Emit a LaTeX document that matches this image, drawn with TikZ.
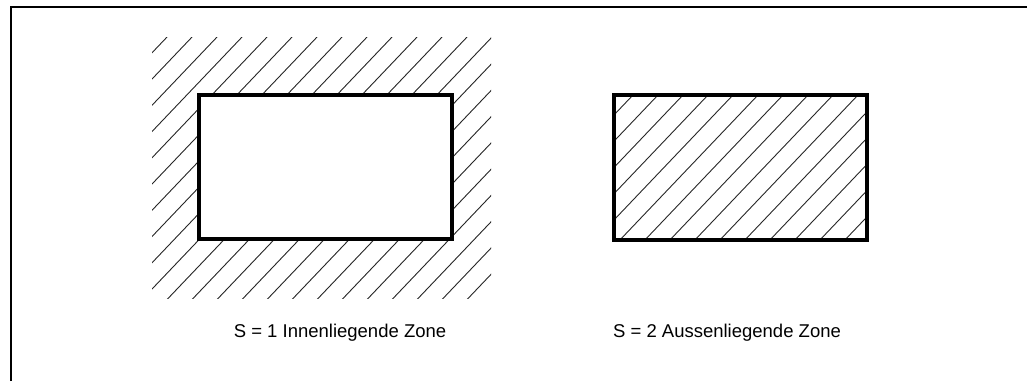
\documentclass[tikz,border=0pt]{standalone}
\usepackage{fontspec}
\setmainfont{Liberation Sans}
\begin{document}
\begin{tikzpicture}[x=1pt,y=-1pt,
  frameline/.style={line width=2pt},
  zone/.style={draw, line width=4pt, inner sep=0pt},
  hatch/.style={line width=0.9pt, black!85},
  label/.style={font=\fontsize{18.5}{22}\selectfont, inner sep=0pt}]
\useasboundingbox (0,0) rectangle (1027,381);
\fill[white] (0,0) rectangle (1027,381);
% frame
\draw[frameline] (11,381) -- (11,7) -- (1027,7);
% outer hatch area (left)
\coordinate (hl1) at (152,37);
\coordinate (hl2) at (491,298);
\begin{scope}
  \clip (hl1) rectangle (hl2);
  \foreach \n in {-12,...,32} {
    \pgfmathsetmacro{\c}{238.65+26.25*\n}
    \draw[hatch] (0,\c) -- (1027,\c-1078.35);
  }
\end{scope}
% inner zone rectangle (white inside)
\node[zone, fill=white, minimum width=253pt, minimum height=144pt] (inner) at (325.5,167) {};
% right rectangle with hatch inside
\coordinate (r1) at (614,95);
\coordinate (r2) at (867,240);
\begin{scope}
  \clip (r1) rectangle (r2);
  \foreach \n in {-20,...,20} {
    \pgfmathsetmacro{\c}{759.65+26.25*\n}
    \draw[hatch] (0,\c) -- (1027,\c-1078.35);
  }
\end{scope}
\node[zone, minimum width=253pt, minimum height=145pt] (outer) at (740.5,167.5) {};
% labels
\node[label] (l1) at (340,333) {S = 1 Innenliegende Zone};
\node[label] (l2) at (727,333) {S = 2 Aussenliegende Zone};
\end{tikzpicture}
\end{document}
